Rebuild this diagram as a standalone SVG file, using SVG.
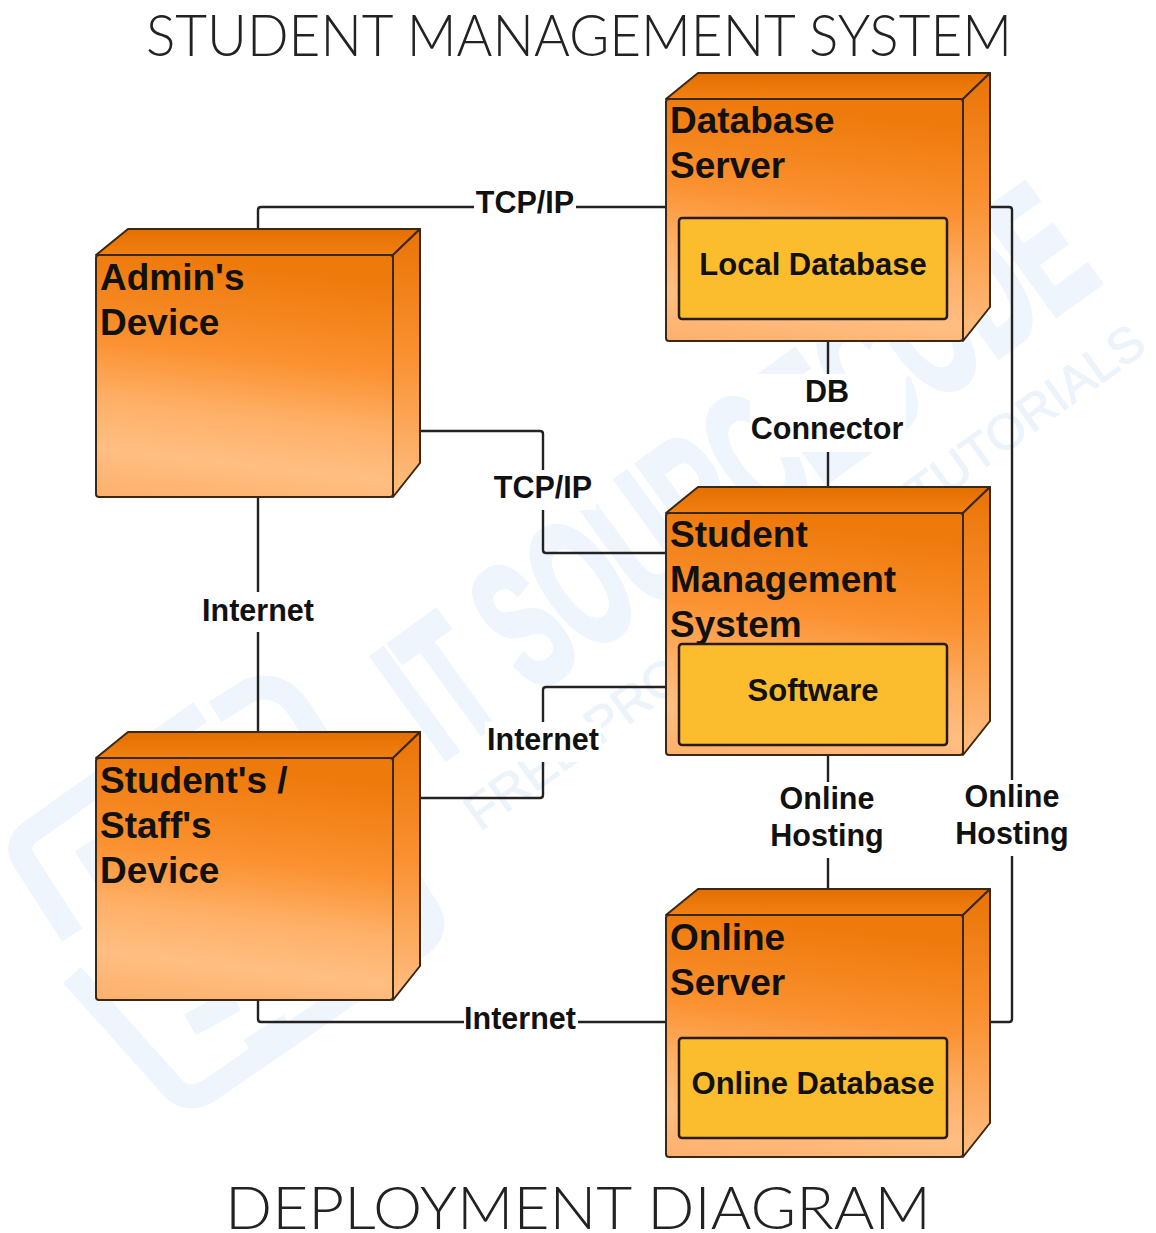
<svg xmlns="http://www.w3.org/2000/svg" width="1156" height="1233" viewBox="0 0 1156 1233">
<defs>
<linearGradient id="front" x1="0.14" y1="0" x2="0" y2="1"><stop offset="0" stop-color="#ee7a0c"/><stop offset="0.36" stop-color="#fb9130"/><stop offset="0.6" stop-color="#feb067"/><stop offset="0.8" stop-color="#ffbe82"/><stop offset="1" stop-color="#fdb06c"/></linearGradient>
<linearGradient id="side" x1="0" y1="0" x2="0" y2="1"><stop offset="0" stop-color="#e97406"/><stop offset="0.45" stop-color="#f98f2e"/><stop offset="1" stop-color="#ffbe82"/></linearGradient>
<linearGradient id="top" x1="0" y1="0" x2="0" y2="1"><stop offset="0" stop-color="#e56e00"/><stop offset="1" stop-color="#f08112"/></linearGradient>
<g id="box">
<path class="o" fill="url(#top)" d="M0 26L32 0H324L297 26Z"/>
<path class="o" fill="url(#side)" d="M297 26L324 0V234L297 268Z"/>
<rect class="o" fill="url(#front)" x="0" y="26" width="297" height="242" rx="3"/>
</g>
</defs>
<style>
.o{stroke:#3a2814;stroke-width:2;stroke-linejoin:round}
.in{fill:#fbbd2e;stroke:#2a1a0c;stroke-width:2.5}
.c{fill:none;stroke:#222;stroke-width:2.4;stroke-linejoin:round}
text{font-family:"Liberation Sans",Arial,sans-serif;font-weight:bold;fill:#111}
.n{font-size:37px}
.i{font-size:31px;text-anchor:middle}
.l{font-size:30.5px;text-anchor:middle}
.bg{fill:#fff}
.t{font-family:Lato,"Open Sans",sans-serif;font-weight:300;fill:#222}
.ws{fill:none;stroke:#eff5fc;stroke-width:24;stroke-linejoin:round;stroke-linecap:butt}
</style>
<rect width="1156" height="1233" fill="#fff"/>
<g id="watermark">
<text transform="translate(440 762) rotate(-36)" font-size="180" textLength="820" lengthAdjust="spacingAndGlyphs" style="fill:#eff5fc;stroke:#eff5fc;stroke-width:7">IT SOURCECODE</text>
<text transform="translate(480 832) rotate(-35.8)" font-size="50" textLength="825" lengthAdjust="spacingAndGlyphs" style="font-weight:normal;fill:#ecf3fb;stroke:#ecf3fb;stroke-width:1">FREE PROJECTS AND TUTORIALS</text>
<path class="ws" d="M200 712L30 832Q14 845 24 860L72 935"/>
<path class="ws" d="M72 975L175 1090Q190 1103 210 1090L420 945Q440 930 428 910L300 710Q280 680 250 690L215 712"/>
<path class="ws" d="M190 1025L235 1000M250 1050L290 1025M85 845L175 985"/>
</g>
<text class="t" x="146" y="56" font-size="56.5" textLength="866" lengthAdjust="spacingAndGlyphs">STUDENT MANAGEMENT SYSTEM</text>
<g id="connectors">
<path class="c" d="M258 229V210Q258 207 261 207H666"/>
<path class="c" d="M990 207H1009Q1012 207 1012 210V1019Q1012 1022 1009 1022H990"/>
<path class="c" d="M828 341V487"/>
<path class="c" d="M420 431H540Q543 431 543 434V550Q543 553 546 553H666"/>
<path class="c" d="M258 497V732"/>
<path class="c" d="M420 798H540Q543 798 543 795V690Q543 687 546 687H666"/>
<path class="c" d="M828 755V889"/>
<path class="c" d="M258 1000V1019Q258 1022 261 1022H666"/>
<rect class="bg" x="474" y="186" width="102" height="34"/>
<text class="l" x="525" y="213">TCP/IP</text>
<rect class="bg" x="750" y="374" width="156" height="78"/>
<text class="l" x="827" y="402">DB</text>
<text class="l" x="827" y="439">Connector</text>
<rect class="bg" x="490" y="470" width="106" height="40"/>
<text class="l" x="543" y="498">TCP/IP</text>
<rect class="bg" x="200" y="592" width="116" height="40"/>
<text class="l" x="258" y="621">Internet</text>
<rect class="bg" x="485" y="722" width="116" height="40"/>
<text class="l" x="543" y="750">Internet</text>
<rect class="bg" x="768" y="782" width="118" height="76"/>
<text class="l" x="827" y="809">Online</text>
<text class="l" x="827" y="846">Hosting</text>
<rect class="bg" x="953" y="780" width="118" height="76"/>
<text class="l" x="1012" y="807">Online</text>
<text class="l" x="1012" y="844">Hosting</text>
<rect class="bg" x="464" y="1002" width="114" height="34"/>
<text class="l" x="520" y="1029">Internet</text>
</g>
<g id="database-server"><use href="#box" x="666" y="73"/>
<text class="n" x="670" y="133">Database</text><text class="n" x="670" y="178">Server</text>
<rect class="in" x="679" y="218" width="268" height="101" rx="3"/>
<text class="i" x="813" y="275">Local Database</text></g>
<g id="admin-device"><use href="#box" x="96" y="229"/>
<text class="n" x="100" y="290">Admin's</text><text class="n" x="100" y="335">Device</text></g>
<g id="student-management-system"><use href="#box" x="666" y="487"/>
<text class="n" x="670" y="547">Student</text><text class="n" x="670" y="592">Management</text><text class="n" x="670" y="637">System</text>
<rect class="in" x="679" y="644" width="268" height="101" rx="3"/>
<text class="i" x="813" y="701">Software</text></g>
<g id="student-staff-device"><use href="#box" x="96" y="732"/>
<text class="n" x="100" y="793">Student's /</text><text class="n" x="100" y="838">Staff's</text><text class="n" x="100" y="883">Device</text></g>
<g id="online-server"><use href="#box" x="666" y="889"/>
<text class="n" x="670" y="950">Online</text><text class="n" x="670" y="995">Server</text>
<rect class="in" x="679" y="1038" width="268" height="100" rx="3"/>
<text class="i" x="813" y="1094">Online Database</text></g>
<text class="t" x="225" y="1229" font-size="60" textLength="706" lengthAdjust="spacingAndGlyphs">DEPLOYMENT DIAGRAM</text>
</svg>
